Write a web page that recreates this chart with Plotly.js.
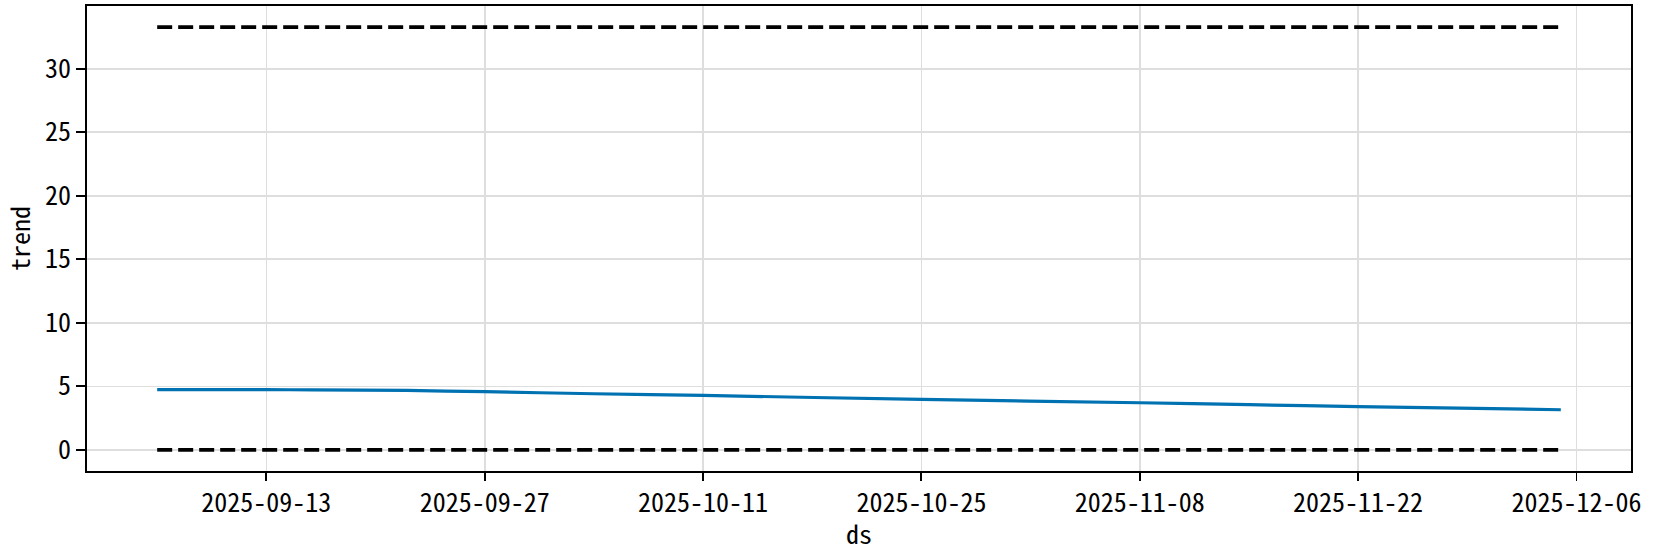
<!DOCTYPE html>
<html>
<head>
<meta charset="utf-8">
<script src="https://cdn.plot.ly/plotly-3.0.1.min.js"></script>
<style>
html,body{margin:0;padding:0;background:#fff;}
#chart{width:1661px;height:554px;}
</style>
</head>
<body>
<div id="chart"></div>
<script>
// Data
var ds = ['2025-09-06','2025-09-13','2025-09-16','2025-09-22','2025-09-27','2025-10-04','2025-10-11','2025-10-25','2025-11-08','2025-11-15','2025-11-22','2025-12-05'];
var trend = [4.74, 4.74, 4.73, 4.68, 4.58, 4.42, 4.29, 3.97, 3.71, 3.56, 3.41, 3.16];
var boundDates = ['2025-09-06','2025-12-05'];
var cap = [33.28, 33.28];
var floorVals = [0, 0];
var xTick0 = '2025-09-13';
var yTicks = [0, 5, 10, 15, 20, 25, 30];
var xLabel = 'ds';
var yLabel = 'trend';

var FONT = '"Noto Sans Mono CJK JP", "DejaVu Sans Mono", monospace';

var traces = [
  {x: ds, y: trend, type: 'scatter', mode: 'lines', line: {color: '#0072B2', width: 3.2, shape: 'spline', smoothing: 0.6}, hoverinfo: 'skip'},
  {x: boundDates, y: cap, type: 'scatter', mode: 'lines', line: {color: '#000000', width: 3.6, dash: '15px,6px'}, hoverinfo: 'skip'},
  {x: boundDates, y: floorVals, type: 'scatter', mode: 'lines', line: {color: '#000000', width: 3.6, dash: '15px,6px'}, hoverinfo: 'skip'}
];

var layout = {
  width: 1661, height: 554,
  margin: {l: 87, r: 30, t: 6, b: 83, pad: 0},
  paper_bgcolor: '#ffffff', plot_bgcolor: '#ffffff',
  showlegend: false,
  font: {family: FONT, size: 26, color: '#000'},
  xaxis: {
    type: 'date',
    range: ['2025-09-01 12:00', '2025-12-09 12:00'],
    tick0: xTick0, dtick: 14 * 86400000, tickformat: '%Y-%m-%d',
    showgrid: true, gridcolor: '#dedede', gridwidth: 1.7,
    showline: true, linecolor: '#000', linewidth: 1.8, mirror: true,
    ticks: 'outside', ticklen: 8, tickwidth: 1.8, tickcolor: '#000',
    tickfont: {family: FONT, size: 26, color: '#000'},
    zeroline: false
  },
  yaxis: {
    range: [-1.66, 34.94],
    tickvals: yTicks, ticktext: yTicks.map(String),
    showgrid: true, gridcolor: '#dedede', gridwidth: 1.7,
    showline: true, linecolor: '#000', linewidth: 1.8, mirror: true,
    ticks: 'outside', ticklen: 9, tickwidth: 1.8, tickcolor: '#000',
    tickfont: {family: FONT, size: 26, color: '#000'},
    zeroline: false,
    title: {text: yLabel, font: {family: FONT, size: 26, color: '#000'}, standoff: 10}
  },
  annotations: [{
    text: xLabel, xref: 'paper', yref: 'paper', x: 0.5, y: -0.1333,
    xanchor: 'center', yanchor: 'middle', showarrow: false,
    font: {family: FONT, size: 26, color: '#000'}
  }]
};

Plotly.newPlot('chart', traces, layout, {staticPlot: true, displayModeBar: false});
</script>
</body>
</html>
